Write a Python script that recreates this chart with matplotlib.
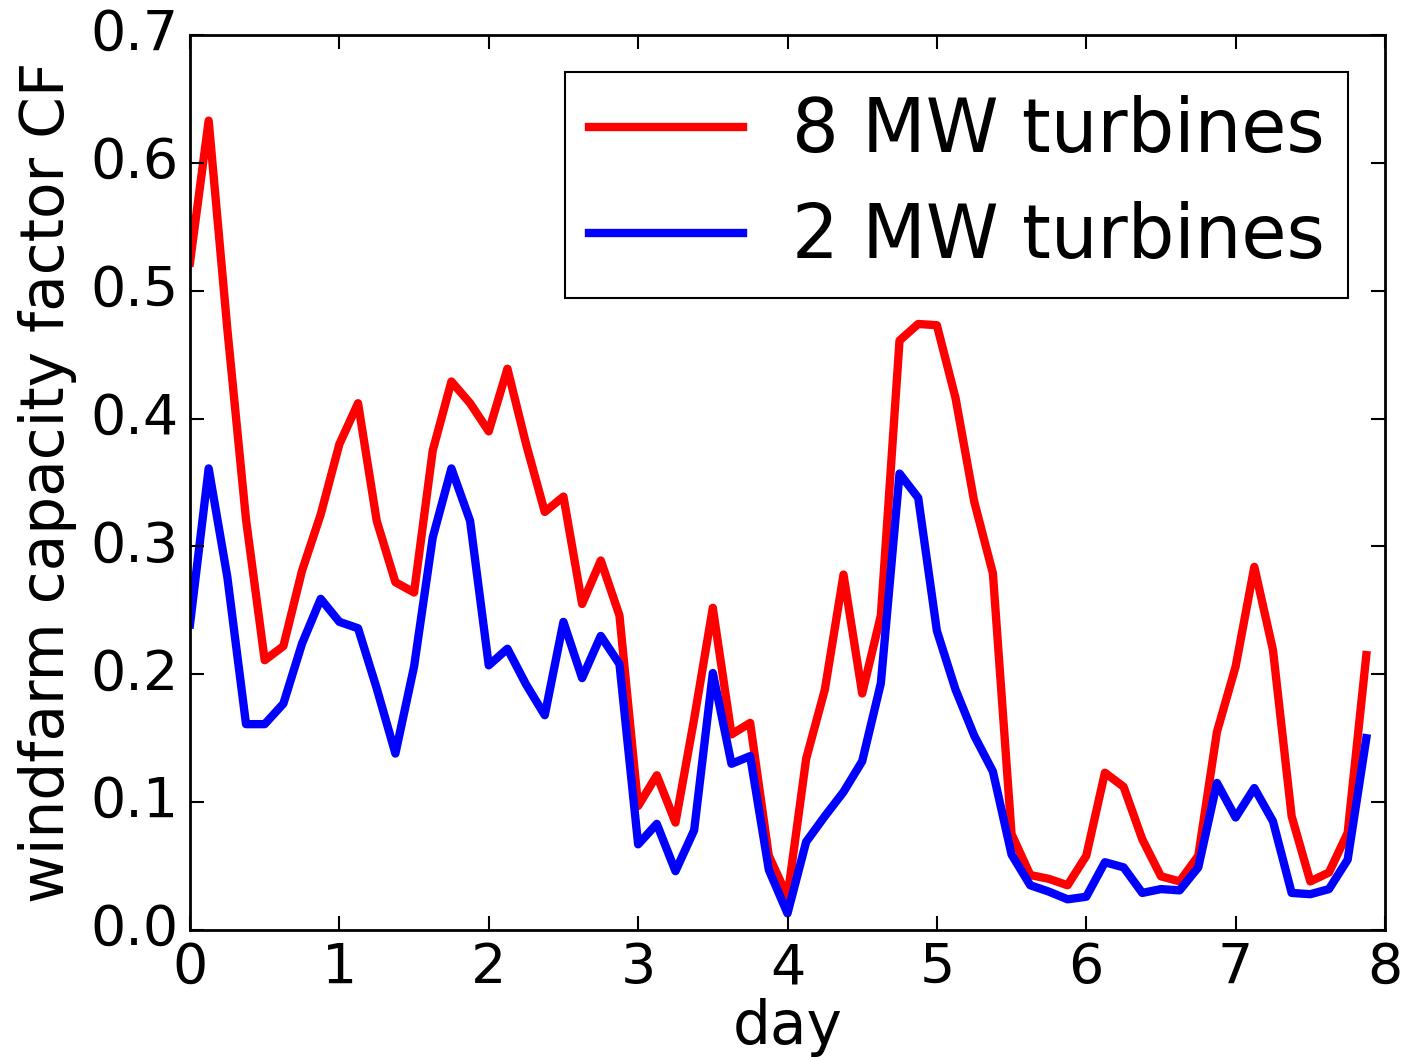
import numpy as np
from matplotlib import pyplot as plt

plt.style.use('classic')

# windfarm capacity factor, sampled every 3 hours
cf_8mw = [0.522, 0.633, 0.470, 0.321, 0.211, 0.222, 0.281, 0.325,
          0.380, 0.412, 0.320, 0.272, 0.264, 0.375, 0.429, 0.412,
          0.390, 0.439, 0.380, 0.327, 0.339, 0.255, 0.289, 0.246,
          0.097, 0.121, 0.084, 0.165, 0.252, 0.153, 0.162, 0.058,
          0.026, 0.134, 0.188, 0.278, 0.185, 0.246, 0.461, 0.474,
          0.473, 0.416, 0.335, 0.279, 0.075, 0.043, 0.040, 0.035,
          0.058, 0.123, 0.112, 0.071, 0.042, 0.038, 0.058, 0.155,
          0.206, 0.284, 0.219, 0.089, 0.038, 0.045, 0.076, 0.215]
cf_2mw = [0.239, 0.361, 0.276, 0.161, 0.161, 0.177, 0.224, 0.259,
          0.241, 0.236, 0.189, 0.138, 0.206, 0.307, 0.361, 0.320,
          0.207, 0.220, 0.192, 0.168, 0.241, 0.197, 0.230, 0.208,
          0.067, 0.083, 0.046, 0.078, 0.201, 0.130, 0.136, 0.047,
          0.013, 0.069, 0.089, 0.108, 0.132, 0.193, 0.357, 0.338,
          0.234, 0.188, 0.152, 0.124, 0.059, 0.035, 0.030, 0.024,
          0.026, 0.053, 0.049, 0.029, 0.032, 0.031, 0.049, 0.115,
          0.088, 0.111, 0.085, 0.029, 0.028, 0.032, 0.055, 0.150]
labels = ["8 MW turbines", "2 MW turbines"]

days = np.arange(len(cf_8mw)) / 8.0

fig = plt.figure(figsize=(14.05, 10.57), dpi=100, facecolor='white')
ax = fig.add_axes([190 / 1405, 127 / 1057, 1195 / 1405, 895 / 1057])

ax.plot(days, cf_8mw, color='r', lw=6, label=labels[0])
ax.plot(days, cf_2mw, color='b', lw=6, label=labels[1])

ax.set_xlim(0, 8)
ax.set_ylim(0, 0.7)
ax.set_xticks(range(0, 9))
ax.set_yticks(np.arange(0, 0.71, 0.1))
ax.tick_params(labelsize=40, length=10, width=1.5, pad=8)
for s in ax.spines.values():
    s.set_linewidth(2)

ax.set_xlabel("day", fontsize=43, labelpad=2)
ax.set_ylabel("windfarm capacity factor CF", fontsize=43, labelpad=10)

leg = ax.legend(loc='upper right', fontsize=53, numpoints=1,
                handlelength=2.1, handletextpad=0.66, borderpad=0.32,
                labelspacing=0.45)
leg.get_frame().set_linewidth(1.5)

fig.savefig("out.png", dpi=100, facecolor='white')
